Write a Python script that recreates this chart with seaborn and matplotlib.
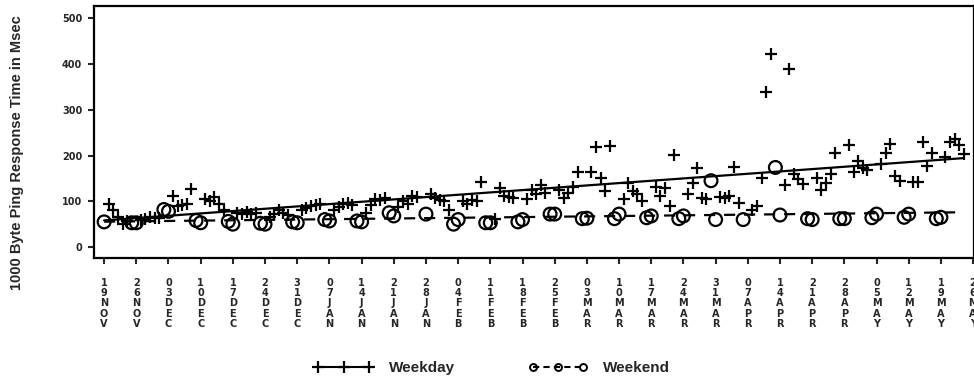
import numpy as np
import pandas as pd
import matplotlib
matplotlib.use("Agg")
import matplotlib.pyplot as plt
from matplotlib.lines import Line2D
import seaborn as sns

# ping times (msec), one value per business day
weekday_ms = [
    95, 80, 65, 50, 56,        # 20-24 NOV
    60, 62, 65, 64, 64,        # 27 NOV - 01 DEC
    112, 90, 92, 95, 126,      # 04-08 DEC
    105, 100, 110, 95, 80,     # 11-15 DEC
    75, 72, 76, 72, 74,        # 18-22 DEC
    65, 72, 80, 75, 70,        # 25-29 DEC
    80, 85, 90, 92, 95,        # 01-05 JAN
    82, 88, 95, 97, 92,        # 08-12 JAN
    75, 92, 105, 103, 108,     # 15-19 JAN
    88, 100, 95, 112, 110,     # 22-26 JAN
    117, 108, 102, 100, 80,    # 29 JAN - 02 FEB
    100, 95, 103, 100, 142,    # 05-09 FEB
    62, 128, 112, 110, 108,    # 12-16 FEB
    105, 125, 115, 135, 118,   # 19-23 FEB
    125, 108, 118, 132, 163,   # 26 FEB - 01 MAR
    165, 218, 150, 122, 220,   # 04-08 MAR
    105, 140, 122, 115, 100,   # 11-15 MAR
    132, 112, 128, 90, 202,    # 18-22 MAR
    115, 140, 172, 108, 105,   # 25-29 MAR
    110, 108, 112, 175, 97,    # 01-05 APR
    82, 90, 150, 338, 422,     # 08-12 APR
    135, 390, 160, 148, 138,   # 15-19 APR
    150, 125, 140, 160, 205,   # 22-26 APR
    222, 163, 188, 172, 168,   # 29 APR - 03 MAY
    182, 205, 225, 155, 145,   # 06-10 MAY
    142, 142, 230, 178, 205,   # 13-17 MAY
    196, 230, 236, 224, 204,   # 20-24 MAY
]
weekday_dates = pd.bdate_range("1995-11-20", "1996-05-24")

weekend_dates = pd.to_datetime([
    "1995-11-19", "1995-11-25", "1995-11-26", "1995-12-02", "1995-12-03",
    "1995-12-09", "1995-12-10", "1995-12-16", "1995-12-17", "1995-12-23",
    "1995-12-24", "1995-12-30", "1995-12-31", "1996-01-06", "1996-01-07",
    "1996-01-13", "1996-01-14", "1996-01-20", "1996-01-21", "1996-01-28",
    "1996-02-03", "1996-02-04", "1996-02-10", "1996-02-11", "1996-02-17",
    "1996-02-18", "1996-02-24", "1996-02-25", "1996-03-02", "1996-03-03",
    "1996-03-09", "1996-03-10", "1996-03-16", "1996-03-17", "1996-03-23",
    "1996-03-24", "1996-03-30", "1996-03-31", "1996-04-06", "1996-04-13",
    "1996-04-14", "1996-04-20", "1996-04-21", "1996-04-27", "1996-04-28",
    "1996-05-04", "1996-05-05", "1996-05-11", "1996-05-12", "1996-05-18",
    "1996-05-19",
])
weekend_ms = [
    55, 53, 53, 82, 78, 58, 53, 56, 50, 52,
    50, 55, 53, 60, 57, 57, 55, 75, 68, 72,
    50, 60, 53, 53, 55, 60, 72, 72, 62, 63,
    62, 72, 64, 68, 62, 68, 145, 60, 60, 174,
    70, 62, 60, 62, 62, 64, 72, 65, 72, 62,
    65,
]

tick_dates = pd.date_range("1995-11-19", "1996-05-26", freq="7D")
y_ticks = [0, 100, 200, 300, 400, 500]

start = tick_dates[0]
wd_x = np.asarray((weekday_dates - start).days, dtype=float)
we_x = np.asarray((weekend_dates - start).days, dtype=float)

sns.set_style("white")
plt.rcParams["font.family"] = ["DejaVu Sans"]

fig = plt.figure(figsize=(9.74, 3.81), dpi=100)
ax = fig.add_axes([94 / 974, 123 / 381, 1 - 94 / 974, 252 / 381])

sns.scatterplot(x=wd_x, y=weekday_ms, marker="+", s=85, color="black",
                linewidth=1.6, ax=ax, zorder=3)
sns.scatterplot(x=we_x, y=weekend_ms, marker="o", s=85, facecolor="none",
                edgecolor="black", linewidth=1.6, ax=ax, zorder=3)

# least squares lines over the whole period
x_all = np.array([min(wd_x.min(), we_x.min()), max(wd_x.max(), we_x.max())])
b, a = np.polyfit(wd_x, weekday_ms, 1)
ax.plot(x_all, a + b * x_all, color="black", lw=1.6)
b, a = np.polyfit(we_x, weekend_ms, 1)
ax.plot(x_all, a + b * x_all, color="black", lw=1.6, ls=(0, (5, 4)))

ax.set_xlim(-2.2, 189.2)
ax.set_ylim(-24, 527)

tick_x = np.asarray((tick_dates - start).days, dtype=float)
ax.set_xticks(tick_x)
ax.set_xticklabels(["\n".join(d.strftime("%d%b").upper()) for d in tick_dates],
                   fontsize=7, fontweight="bold", linespacing=1.02, va="top")
ax.set_yticks(y_ticks)
ax.set_yticklabels([str(v) for v in y_ticks], fontsize=7, fontweight="bold")
ax.tick_params(axis="x", direction="out", length=4.5, width=1.5, pad=10, bottom=True)
ax.tick_params(axis="y", direction="out", length=4.5, width=1.5, pad=4, left=True)

for s in ax.spines.values():
    s.set_linewidth(1.6)
    s.set_color("black")

fig.text(17 / 974, 0.60, "1000 Byte Ping Response Time in Msec", rotation=90,
         ha="center", va="center", fontsize=10.5, fontweight="bold",
         family=["Liberation Sans", "DejaVu Sans"])

handles = [
    Line2D([], [], color="black", lw=1.5, marker="+", ms=8, mew=1.6),
    Line2D([], [], color="black", lw=1.5, ls=(0, (3, 2)), marker="o", ms=5,
           mfc="none", mew=1.4),
]
fig.legend(handles, ["Weekday", "Weekend"], loc="center",
           bbox_to_anchor=(0.505, 0.034), ncol=2, frameon=False, numpoints=3,
           handlelength=3.9, handletextpad=1.0, columnspacing=4.8,
           prop={"family": "Liberation Sans", "weight": "bold", "size": 11})

fig.savefig("out.png", dpi=100)
